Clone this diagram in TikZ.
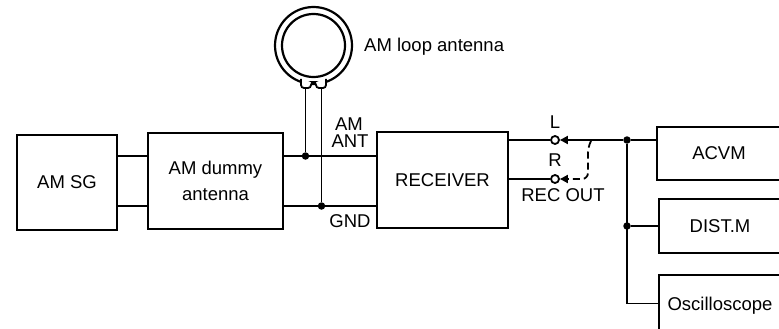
\documentclass[tikz,border=0pt]{standalone}
\usepackage{fontspec}
\setmainfont{Liberation Sans}
\usetikzlibrary{arrows.meta}
\begin{document}
\begin{tikzpicture}[x=1pt,y=-1pt,
  box/.style={draw,line width=2.3pt,inner sep=0pt,align=center,font=\fontsize{18.5}{26}\selectfont},
  wire/.style={line width=1.8pt},
  dot/.style={circle,fill,inner sep=0pt,minimum size=7.5pt},
  lbl/.style={font=\fontsize{18.5}{22}\selectfont,inner sep=0pt,text height=13.2pt,text depth=0pt},
  jack/.style={circle,draw,line width=1.8pt,fill=white,inner sep=0pt,minimum size=8pt},
  tip/.style={-{Triangle[length=8pt,width=8pt]}}
]
\useasboundingbox (0,0) rectangle (779,329);
\clip (0,0) rectangle (779,329);

% boxes
\node[box,minimum width=100pt,minimum height=95pt] (sg) at (67,182.5) {AM SG};
\node[box,minimum width=135pt,minimum height=96pt] (dummy) at (215.5,181) {AM dummy\\antenna};
\node[box,minimum width=131pt,minimum height=96pt] (rx) at (442.5,180) {RECEIVER};
\node[box,minimum width=124pt,minimum height=53pt] (acvm) at (719,153.5) {ACVM};
\node[box,minimum width=122pt,minimum height=54pt] (dist) at (720,226) {DIST.M};
\node[box,minimum width=122pt,minimum height=57pt,text height=13.2pt,text depth=0pt] (osc) at (720,303.5) {Oscilloscope};

% loop antenna
\node[circle,draw,line width=2.2pt,minimum size=77pt,inner sep=0pt] (loop) at (313.5,45.5) {};
\draw[line width=2.2pt] (loop.center) circle (31.5pt);
\draw[wire,fill=white,rounded corners=3pt] (301,79) -- (301,88) -- (311,88) -- (311,82) -- (316,82) -- (316,88) -- (326,88) -- (326,79);
\coordinate (la) at (305.5,88);
\coordinate (lb) at (321.5,88);
\node[anchor=base west,font=\fontsize{18.5}{22}\selectfont,inner sep=0pt] (loopl) at (364,52) {AM loop antenna};

% wires left
\coordinate (yt) at (0,156);
\coordinate (yb) at (0,206);
\draw[wire] (sg.east |- yt) -- (dummy.west |- yt);
\draw[wire] (sg.east |- yb) -- (dummy.west |- yb);
\draw[wire] (dummy.east |- yt) -- (rx.west |- yt);
\draw[wire] (dummy.east |- yb) -- (rx.west |- yb);
\node[dot] (ja) at (305.5,156) {};
\node[dot] (jb) at (321.5,206) {};
\draw[wire] (la) -- (ja);
\draw[wire] (lb) -- (jb);

\node[lbl] (am) at (349,124) {AM};
\node[lbl] (ant) at (350,141) {ANT};
\node[lbl] (gnd) at (350,221) {GND};

% output side
\node[jack] (jl) at (555,140) {};
\node[jack] (jr) at (555,179) {};
\draw[wire] (rx.east |- jl) -- (jl);
\draw[wire] (rx.east |- jr) -- (jr);
\node[lbl] (ll) at (555,122) {L};
\node[lbl] (rl) at (555,160) {R};
\node[lbl] (ro) at (563,195) {REC OUT};

\node[dot] (jn) at (627,140) {};
\draw[wire,tip] (jn) -- (jl);
\coordinate (ds) at (591,141);
\draw[wire,tip,dash pattern=on 7pt off 4pt,rounded corners=6pt] (ds) -- (588,147) -- (588,179) -- (jr);
\draw[wire] (jn) -- (acvm.west |- jn);
\node[dot] (jd) at (627,226) {};
\draw[wire] (jd) -- (dist.west);
\draw[wire] (jn) -- (jn |- osc) -- (osc.west);
\end{tikzpicture}
\end{document}
